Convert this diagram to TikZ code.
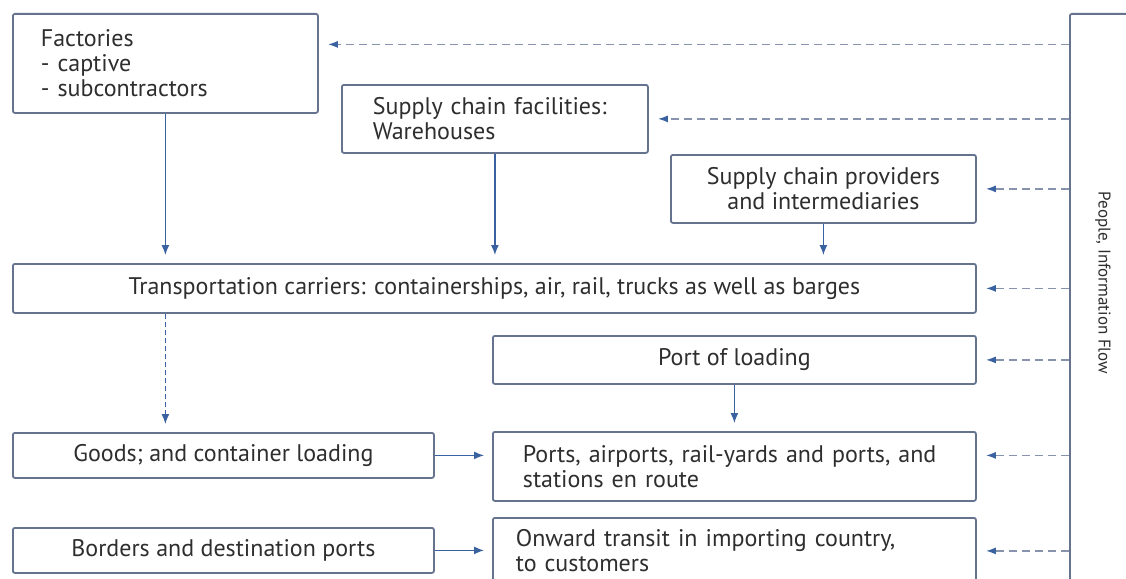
\documentclass[tikz,border=0pt]{standalone}
\usepackage{fontspec}
\setmainfont{PT Sans}
\usetikzlibrary{arrows.meta,positioning,calc}
\definecolor{frame}{HTML}{65738F}
\definecolor{arrowblue}{HTML}{3A62A0}
\definecolor{dashgray}{HTML}{8793AD}
\definecolor{ink}{HTML}{2E2E2E}

\begin{document}
\begin{tikzpicture}[
  x=1pt,y=-1pt,
  box/.style={draw=frame,line width=1.8pt,rounded corners=2pt,fill=white,anchor=north west,inner sep=0pt,text=ink,font=\fontsize{24}{25}\selectfont},
  lbox/.style={box,align=left},
  cbox/.style={box,align=center},
  arr/.style={-{Latex[length=10pt,width=8pt]},line width=1.4pt,draw=arrowblue,shorten >=8pt},
  info/.style={-{Latex[length=10pt,width=7pt,color=arrowblue]},line width=1.6pt,draw=dashgray,dash pattern=on 8pt off 5pt,shorten >=9pt}
]
\fill[white] (0,0) rectangle (1126,578);
\useasboundingbox (0,0) rectangle (1126,578);
\clip (0,0) rectangle (1126,578);
% boxes on the left
\node[lbox,text width=249pt,inner xsep=28pt,minimum height=99pt] (fac) at (12,13) {Factories\\- captive\\- subcontractors};
\node[lbox,text width=244pt,inner xsep=31pt,minimum height=68pt] (wh) at (341,84) {Supply chain facilities:\\Warehouses};
\node[cbox,minimum width=305pt,minimum height=68pt] (prov) at (670,154) {Supply chain providers\\and intermediaries};
\node[cbox,minimum width=963pt,minimum height=49pt] (trans) at (12,263) {Transportation carriers: containerships, air, rail, trucks as well as barges};
\node[cbox,minimum width=483pt,minimum height=48pt] (pol) at (492,335) {Port of loading};
\node[cbox,minimum width=421pt,minimum height=45pt] (goods) at (12,432) {Goods; and container loading};
\node[lbox,text width=423pt,inner xsep=30pt,minimum height=69pt] (ports) at (492,431) {Ports, airports, rail-yards and ports, and\\stations en route};
\node[cbox,minimum width=421pt,minimum height=45pt] (borders) at (12,527) {Borders and destination ports};
\node[lbox,text width=437pt,inner xsep=23pt,minimum height=66pt] (onward) at (492,517) {Onward transit in importing country,\\to customers};
% people bar
\node[box,minimum width=120pt,minimum height=620pt] (bar) at (1069,13) {};
\node[text=ink,rotate=-90,font=\fontsize{17}{20}\selectfont] (flow) at (1103,283) {People, Information Flow};
% material flow
\draw[arr] (fac.south) -- (fac.south |- trans.north);
\draw[arr] (wh.south) -- (wh.south |- trans.north);
\draw[arr] (prov.south) -- (prov.south |- trans.north);
\draw[arr,dash pattern=on 5pt off 3pt] (fac.south |- trans.south) -- (fac.south |- goods.north);
\draw[arr] (pol) -- (ports);
\draw[arr] (goods.east) -- (goods.east -| ports.west);
\draw[arr] (borders.east) -- (borders.east -| onward.west);
% information flow
\coordinate (facin) at ($(fac.east)+(0,-19)$);
\draw[info] (bar.west |- facin) -- (facin);
\foreach \n in {wh,prov,trans,pol,onward}
  \draw[info] (bar.west |- \n.east) -- (\n.east);
\draw[info] (bar.west |- goods.east) -- (ports.east |- goods.east);
\end{tikzpicture}
\end{document}
